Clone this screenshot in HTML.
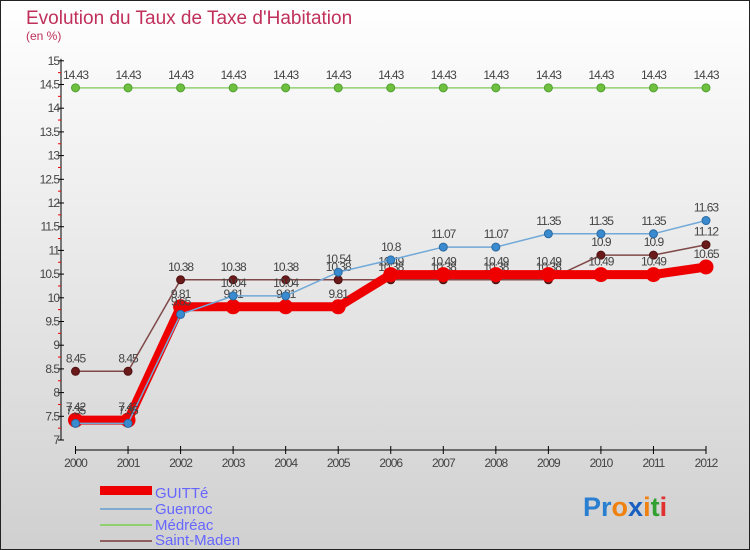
<!DOCTYPE html>
<html><head><meta charset="utf-8"><style>
body{margin:0}
svg{display:block;font-family:"Liberation Sans",sans-serif}
</style></head><body>
<svg width="750" height="550" viewBox="0 0 750 550" xmlns="http://www.w3.org/2000/svg">
<defs><linearGradient id="bg" x1="0" y1="0" x2="0" y2="1"><stop offset="0" stop-color="#ffffff"/><stop offset="1" stop-color="#d0d0d0"/></linearGradient></defs>
<rect x="0.5" y="0.5" width="749" height="549" fill="url(#bg)" stroke="#222"/>
<text x="26" y="24" font-size="19" fill="#c0305a">Evolution du Taux de Taxe d'Habitation</text>
<text x="26" y="40" font-size="12" fill="#c0305a">(en %)</text>
<g id="axes"></g>
<g id="series"></g>
<g>
<rect x="100" y="486" width="52" height="9" fill="#e00"/>
<text x="155" y="498" font-size="15" fill="#6666ff">GUITTé</text>
<rect x="100" y="508" width="52" height="2" fill="#80aad0"/>
<text x="155" y="514" font-size="15" fill="#6666ff">Guenroc</text>
<rect x="100" y="524" width="52" height="2" fill="#90d070"/>
<text x="155" y="530" font-size="15" fill="#6666ff">Médréac</text>
<rect x="100" y="540" width="52" height="2" fill="#906060"/>
<text x="155" y="545" font-size="15" fill="#6666ff">Saint-Maden</text>
</g>
<g font-size="27" font-weight="bold">
<text x="583" y="516"><tspan fill="#2a7fd0">Pr</tspan><tspan fill="#f08010">o</tspan><tspan fill="#1a60c0">x</tspan><tspan fill="#f08010">i</tspan><tspan fill="#30a030">t</tspan><tspan fill="#e03030">i</tspan></text>
</g>
</svg>
<script>
const years=[2000,2001,2002,2003,2004,2005,2006,2007,2008,2009,2010,2011,2012];
const guitte=[7.42,7.42,9.81,9.81,9.81,9.81,10.49,10.49,10.49,10.49,10.49,10.49,10.65];
const guenroc=[7.35,7.35,9.65,10.04,10.04,10.54,10.8,11.07,11.07,11.35,11.35,11.35,11.63];
const medreac=[14.43,14.43,14.43,14.43,14.43,14.43,14.43,14.43,14.43,14.43,14.43,14.43,14.43];
const saintMaden=[8.45,8.45,10.38,10.38,10.38,10.38,10.38,10.38,10.38,10.38,10.9,10.9,11.12];
const yTicks=[7,7.5,8,8.5,9,9.5,10,10.5,11,11.5,12,12.5,13,13.5,14,14.5,15];
const NS="http://www.w3.org/2000/svg";
const X=i=>75.5+i*(706-75.5)/(years.length-1);
const Y=v=>440-(v-7)*47.4;
function mk(t,a,p){const e=document.createElementNS(NS,t);for(const k in a)e.setAttribute(k,a[k]);p.appendChild(e);return e;}
const ax=document.getElementById('axes');
let yl=mk('line',{x1:61,y1:Y(15)-2,x2:61,y2:440,stroke:'#000'},ax);


yTicks.forEach(v=>{
 mk('line',{x1:58,x2:64,y1:Y(v),y2:Y(v),stroke:'#000'},ax);
 if(v<15){const m=mk('line',{x1:58,x2:61,y1:Y(v+0.25),y2:Y(v+0.25),stroke:'#e00'},ax);}
 const t=mk('text',{x:59,y:Y(v)+4,'font-size':12,'text-anchor':'end',fill:'#444','letter-spacing':'-1'},ax);
 t.textContent=String(v);
 
 
});
let xl=mk('line',{x1:X(0),x2:X(12),y1:450,y2:450,stroke:'#000'},ax);


years.forEach((yr,i)=>{
 mk('line',{x1:X(i),x2:X(i),y1:446,y2:454,stroke:'#000'},ax);
 const t=mk('text',{x:X(i),y:467,'font-size':12,'text-anchor':'middle',fill:'#444','letter-spacing':'-1'},ax);
 t.textContent=yr;
 
 
});
const sg=document.getElementById('series');
function series(vals,name,color,w,r,dot,dotStroke){
 const g=mk('g',{},sg);
 
 
 const pl=mk('polyline',{points:vals.map((v,i)=>X(i)+','+Y(v)).join(' '),fill:'none',stroke:color,'stroke-width':w},g);
 
 
 vals.forEach((v,i)=>{
  const c=mk('circle',{cx:X(i),cy:Y(v),r:r,fill:dot,stroke:dotStroke,'stroke-width':1},g);
  
  
  const t=mk('text',{x:X(i),y:Y(v)-9,'font-size':12,'text-anchor':'middle',fill:'#444','letter-spacing':'-1'},g);
  t.textContent=String(v);
  
  
 });
}
series(medreac,'medreac','#90d070',1.5,4,'#70c040','#50a030');
series(saintMaden,'saint-maden','#804848',1.5,4,'#6a1a1a','#501010');
series(guitte,'guitte','#ee0000',9,7,'#ee0000','#ee0000');
series(guenroc,'guenroc','#70a8d8',1.5,4,'#3a8ad0','#2a6aa0');
</script>
</body></html>
